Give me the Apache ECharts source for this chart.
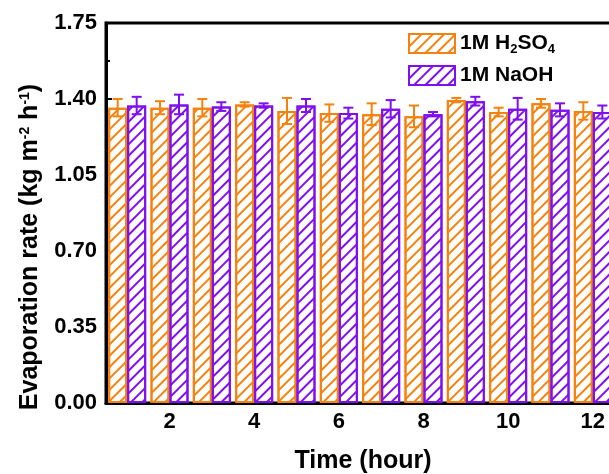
<!DOCTYPE html>
<html>
<head>
<meta charset="utf-8">
<script src="https://cdn.jsdelivr.net/npm/echarts@6/dist/echarts.min.js"></script>
<style>
  html, body { margin: 0; padding: 0; background: #fff; }
  #chart { width: 609px; height: 474px; }
</style>
</head>
<body>
<div id="chart"></div>
<script>
// Time points (hours)
const hours = ['1', '2', '3', '4', '5', '6', '7', '8', '9', '10', '11', '12'];

// Evaporation rate (kg m^-2 h^-1) and standard deviation, 1M H2SO4
const acidRate = [1.36, 1.36, 1.36, 1.375, 1.345, 1.335, 1.33, 1.32, 1.395, 1.34, 1.38, 1.345];
const acidErr  = [0.04, 0.03, 0.04, 0.01, 0.06, 0.04, 0.05, 0.05, 0.01, 0.02, 0.02, 0.04];

// Evaporation rate and standard deviation, 1M NaOH
const baseRate = [1.37, 1.375, 1.365, 1.37, 1.37, 1.335, 1.355, 1.33, 1.39, 1.355, 1.35, 1.34];
const baseErr  = [0.04, 0.045, 0.02, 0.01, 0.03, 0.025, 0.04, 0.01, 0.02, 0.05, 0.03, 0.03];

// Y axis ticks
const yTicks = [0, 0.35, 0.70, 1.05, 1.40, 1.75];

const ORANGE = '#f5820f';
const PURPLE = '#7f0ff0';
const BAR_W = 19;
const FONT = 'Liberation Sans, Arial, sans-serif';

function hatch(color) {
  return {
    symbol: 'rect',
    symbolSize: 1,
    color: color,
    backgroundColor: null,
    dashArrayX: [1, 0],
    dashArrayY: [1.6, 5.4],
    rotation: -Math.PI / 4
  };
}

function errorSeries(name, rates, errs, color, shift) {
  return {
    name: name,
    type: 'custom',
    z: 5,
    silent: true,
    data: rates.map((v, i) => [i, v - errs[i], v + errs[i]]),
    renderItem: function (params, api) {
      const i = api.value(0);
      const lo = api.coord([i, api.value(1)]);
      const hi = api.coord([i, api.value(2)]);
      const x = lo[0] + shift;
      const cap = 5;
      const style = { stroke: color, lineWidth: 2, fill: null };
      return {
        type: 'group',
        children: [
          { type: 'line', shape: { x1: x, y1: lo[1], x2: x, y2: hi[1] }, style: style },
          { type: 'line', shape: { x1: x - cap, y1: hi[1], x2: x + cap, y2: hi[1] }, style: style },
          { type: 'line', shape: { x1: x - cap, y1: lo[1], x2: x + cap, y2: lo[1] }, style: style }
        ]
      };
    }
  };
}

const chart = echarts.init(document.getElementById('chart'), null, { renderer: 'canvas' });

chart.setOption({
  animation: false,
  backgroundColor: '#fff',
  grid: {
    left: 106, top: 23, width: 508, height: 380,
    outerBoundsMode: 'none',
    containLabel: false,
    show: true, borderColor: '#000', borderWidth: 3, backgroundColor: 'transparent'
  },
  legend: {
    left: 408, top: 33, orient: 'vertical', padding: 0,
    itemWidth: 46, itemHeight: 19, itemGap: 9,
    icon: 'rect',
    data: ['1M H2SO4', '1M NaOH'],
    formatter: function (name) {
      return name === '1M H2SO4' ? '1M H{sub|2}SO{sub|4}' : name;
    },
    textStyle: {
      fontFamily: FONT, fontWeight: 'bold', fontSize: 21, color: '#000',
      rich: {
        sub: { fontFamily: FONT, fontWeight: 'bold', fontSize: 13, verticalAlign: 'bottom', padding: [12, 0, 0, 0] }
      }
    }
  },
  xAxis: {
    type: 'category',
    data: hours,
    boundaryGap: true,
    axisLine: { lineStyle: { color: '#000', width: 3 } },
    axisTick: { show: false },
    axisLabel: {
      interval: 0,
      margin: 8,
      formatter: function (v) { return Number(v) % 2 === 0 ? v : ''; },
      fontFamily: FONT, fontWeight: 'bold', fontSize: 22, color: '#000'
    },
    name: 'Time (hour)',
    nameLocation: 'middle',
    nameGap: 46,
    nameTextStyle: { fontFamily: FONT, fontWeight: 'bold', fontSize: 25, color: '#000', padding: [0, 0, 0, 6] }
  },
  yAxis: {
    type: 'value',
    min: yTicks[0],
    max: yTicks[yTicks.length - 1],
    interval: 0.35,
    splitLine: { show: false },
    axisLine: { show: true, lineStyle: { color: '#000', width: 3 } },
    axisTick: { show: true, inside: true, length: 6, lineStyle: { color: '#000', width: 2 } },
    minorTick: { show: true, splitNumber: 2, length: 4, lineStyle: { color: '#000', width: 2 } },
    axisLabel: {
      margin: 9,
      formatter: function (v) { return v.toFixed(2); },
      fontFamily: FONT, fontWeight: 'bold', fontSize: 22, color: '#000'
    },
    name: 'Evaporation rate (kg m{sup|-2} h{sup|-1})',
    nameLocation: 'middle',
    nameGap: 63,
    nameTextStyle: {
      fontFamily: FONT, fontWeight: 'bold', fontSize: 25, color: '#000',
      padding: [0, 68, 0, 0],
      rich: {
        sup: { fontFamily: FONT, fontWeight: 'bold', fontSize: 14, verticalAlign: 'top', padding: [0, 0, 10, 0] }
      }
    }
  },
  series: [
    {
      name: '1M H2SO4',
      type: 'bar',
      data: acidRate,
      barWidth: BAR_W,
      barGap: '0%',
      itemStyle: { color: '#fff', borderColor: ORANGE, borderWidth: 2, decal: hatch(ORANGE) }
    },
    {
      name: '1M NaOH',
      type: 'bar',
      data: baseRate,
      barWidth: BAR_W,
      barGap: '0%',
      itemStyle: { color: '#fff', borderColor: PURPLE, borderWidth: 2, decal: hatch(PURPLE) }
    },
    errorSeries('acidErr', acidRate, acidErr, ORANGE, -BAR_W / 2),
    errorSeries('baseErr', baseRate, baseErr, PURPLE, BAR_W / 2)
  ]
});
</script>
</body>
</html>
